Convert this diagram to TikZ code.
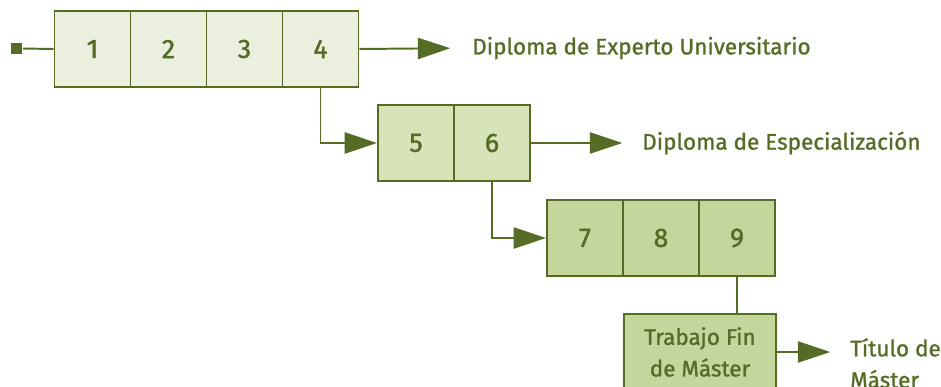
\documentclass[tikz,border=0pt]{standalone}
\usepackage{fontspec}
\setmainfont{Fira Sans}[FakeBold=1.2,AutoFakeBold=1.2]
\newfontfamily\cifras{Fira Sans}[FakeBold=1.4]
\newfontfamily\rotulo{Fira Sans}[FakeBold=1.1]
\usetikzlibrary{arrows.meta}
\definecolor{olivo}{RGB}{86,107,38}
\definecolor{verdeA}{RGB}{235,240,222}
\definecolor{verdeB}{RGB}{215,228,186}
\definecolor{verdeC}{RGB}{196,214,156}
\tikzset{
  celda/.style={draw=olivo,line width=1.4pt,minimum width=1.9cm,minimum height=1.9cm,inner sep=0pt,text=olivo,font=\cifras\fontsize{19}{22}\selectfont},
  etiqueta/.style={text=olivo,inner sep=0pt,anchor=west,align=left,font=\rotulo\fontsize{16}{22.5}\selectfont},
  linea/.style={draw=olivo,line width=1.4pt},
  flecha/.style={linea,-{Triangle[length=23pt,width=15pt]}}
}
\begin{document}
\begin{tikzpicture}[line cap=butt,line join=miter,x=0.025cm,y=-0.025cm]
		\useasboundingbox (0,0) rectangle (941,387);
		\clip (0,0) rectangle (941,387);
		\node [fill=olivo,minimum size=8.5pt,inner sep=0pt] (inicio) at (16.5,48.5) {};
		\node [celda,fill=verdeA] (c1) at (92.5,49) {1};
		\node [celda,fill=verdeA] (c2) at (168.5,49) {2};
		\node [celda,fill=verdeA] (c3) at (244.5,49) {3};
		\node [celda,fill=verdeA] (c4) at (320.5,49) {4};
		\node [celda,fill=verdeB] (c5) at (416,143) {5};
		\node [celda,fill=verdeB] (c6) at (492,143) {6};
		\node [celda,fill=verdeC] (c7) at (585,238) {7};
		\node [celda,fill=verdeC] (c8) at (661,238) {8};
		\node [celda,fill=verdeC] (c9) at (737,238) {9};
		\node [celda,fill=verdeC,minimum width=3.8cm,align=center,font=\rotulo\fontsize{16}{22.5}\selectfont] (tfm) at (700,352) {Trabajo Fin\\de Máster};
		\node [etiqueta] (dexperto) at (472,48) {Diploma de Experto Universitario};
		\node [etiqueta] (despec) at (642,143) {Diploma de Especialización};
		\node [etiqueta,anchor=north west] (titulo) at (850,338) {Título de\\Máster};
		\draw [linea] (inicio.east) -- (c1.west);
		\draw [flecha,shorten >=15.5pt] (c4.east) -- (dexperto.west);
		\draw [flecha] (c4.south) |- (c5.west);
		\draw [flecha,shorten >=14pt] (c6.east) -- (despec.west);
		\draw [flecha] (c6.south) |- (c7.west);
		\draw [linea] (c9.south) -- (c9.south |- tfm.north);
		\draw [flecha,shorten >=14pt] (tfm.east) -- (tfm.east -| titulo.west);
	\end{tikzpicture}
\end{document}
